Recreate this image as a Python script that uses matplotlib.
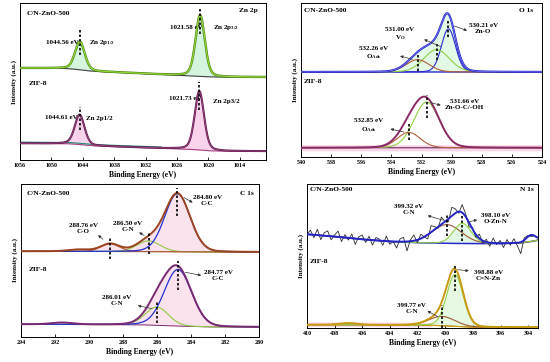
import numpy as np
import matplotlib
matplotlib.use("Agg")
import matplotlib.pyplot as plt

plt.rcParams['font.family'] = ['Liberation Serif', 'DejaVu Serif']
plt.rcParams['font.weight'] = 'bold'
plt.rcParams['mathtext.fontset'] = 'custom'
plt.rcParams['mathtext.rm'] = 'Liberation Serif:bold'
plt.rcParams['mathtext.it'] = 'Liberation Serif:bold'
plt.rcParams['mathtext.bf'] = 'Liberation Serif:bold'

# ---------------- data ----------------
# Zn 2p
zn_xlim = (1056, 1009)
zn_ticks = [1056, 1050, 1044, 1038, 1032, 1026, 1020, 1014]
zn_top_bg_x = [1056, 1048, 1046, 1043, 1041, 1036, 1030, 1025, 1023, 1020, 1018, 1009]
zn_top_bg_y = [0.586, 0.584, 0.580, 0.568, 0.563, 0.556, 0.546, 0.538, 0.535, 0.530, 0.528, 0.528]
zn_top_centers = [1044.56, 1021.58]
zn_top_heights = [0.180, 0.390]
zn_top_fwhm = [2.2, 2.1]
zn_bot_bg_x = [1056, 1047, 1045, 1042, 1036, 1030, 1026, 1023, 1020, 1017, 1009]
zn_bot_bg_y = [0.106, 0.104, 0.100, 0.090, 0.083, 0.076, 0.071, 0.067, 0.059, 0.056, 0.056]
zn_bot_centers = [1044.61, 1021.73]
zn_bot_heights = [0.190, 0.375]
zn_bot_fwhm = [2.2, 2.1]

# O 1s
o_xlim = (540, 524)
o_ticks = [540, 538, 536, 534, 532, 530, 528, 526, 524]
o_top_bg = 0.552
o_top_centers = [530.21, 531.00, 532.26]
o_top_heights = [0.280, 0.145, 0.080]
o_top_fwhm = [1.1, 2.0, 1.8]
o_bot_bg = 0.060
o_bot_centers = [531.66, 532.85]
o_bot_heights = [0.297, 0.100]
o_bot_fwhm = [2.0, 1.8]

# C 1s
c_xlim = (294, 280)
c_ticks = [294, 292, 290, 288, 286, 284, 282, 280]
c_top_bg_x = [294, 286, 284, 280]
c_top_bg_y = [0.560, 0.558, 0.556, 0.555]
c_top_centers = [284.80, 286.50, 288.76]
c_top_heights = [0.380, 0.070, 0.050]
c_top_fwhm = [1.76, 1.6, 1.3]
c_top_extra = [290.6, 0.012, 1.5]
c_bot_bg_x = [294, 287, 285, 283, 280]
c_bot_bg_y = [0.083, 0.080, 0.072, 0.066, 0.065]
c_bot_centers = [284.77, 286.01]
c_bot_heights = [0.370, 0.120]
c_bot_fwhm = [1.9, 1.6]
c_bot_extra = [291.6, 0.012, 1.5]

# N 1s
n_xlim = (410, 393.3)
n_ticks = [410, 408, 406, 404, 402, 400, 398, 396, 394]
n_top_bg_x = [410, 408, 406, 404, 402, 400, 398, 396, 394.6, 393.8, 393.3]
n_top_bg_y = [0.651, 0.635, 0.615, 0.600, 0.592, 0.588, 0.586, 0.586, 0.590, 0.600, 0.610]
n_top_centers = [399.90, 398.77]
n_top_heights = [0.130, 0.140]
n_top_fwhm = [2.5, 1.5]
n_top_extra = [393.8, 0.045, 0.8]
n_top_noise = [0.00, 0.03, -0.02, 0.04, -0.03, 0.02, 0.035, -0.025, 0.01, 0.04,
               -0.03, 0.02, -0.015, 0.03, -0.04, 0.015, 0.03, -0.02, 0.025, -0.035,
               0.02, 0.01, -0.03, 0.035, -0.02, 0.0, -0.045, 0.02, 0.03, -0.065,
               0.01, 0.04, -0.02, 0.03, 0.0, -0.03, 0.045, 0.02, -0.01, 0.05,
               0.0, -0.02, 0.06, 0.03, -0.01, 0.055, 0.02, -0.03, 0.01, -0.02,
               0.03, -0.015, 0.02, -0.025, 0.035, -0.01, 0.02, -0.03, 0.025, -0.015,
               0.03, -0.02, -0.08, 0.015, 0.01, -0.01, 0.0, 0.0]
n_bot_bg_x = [410, 404, 401, 399.5, 398, 396, 393.3]
n_bot_bg_y = [0.023, 0.021, 0.019, 0.012, 0.006, 0.005, 0.005]
n_bot_centers = [399.30, 400.22]
n_bot_heights = [0.360, 0.065]
n_bot_fwhm = [1.4, 2.2]
n_bot_extra = [407.0, 0.012, 1.5]


def pv(x, c, h, w, eta=0.1):
    d = (x - c) / w
    return h * ((1 - eta) * np.exp(-4 * np.log(2) * d ** 2) + eta / (1 + 4 * d ** 2))


W, H = 550, 362
fig = plt.figure(figsize=(5.5, 3.62), dpi=100)


def make_ax(l, r, t, b):
    return fig.add_axes([l / W, 1 - b / H, (r - l) / W, (b - t) / H])


FS_T = 4.3
FS_A = 5.0


def style(ax, xlim, ticks, ylabelpad=2):
    ax.set_xlim(*xlim)
    ax.set_ylim(0, 1)
    ax.set_xticks(ticks)
    ax.set_xticklabels([str(t) for t in ticks], fontsize=FS_T, fontweight='bold')
    ax.set_yticks([])
    ax.tick_params(axis='x', direction='in', length=2, width=0.6, pad=2)
    for s in ax.spines.values():
        s.set_linewidth(0.7)
    ax.set_xlabel('Binding Energy (eV)', fontsize=5.5, fontweight='bold', labelpad=2)
    ax.set_ylabel('Intensity (a.u.)', fontsize=5.0, fontweight='bold', labelpad=ylabelpad)


def vdash(ax, x, y0, y1):
    ax.plot([x, x], [y0, y1], color='black', lw=1.2, ls=(0, (1.5, 1.2)), zorder=6)


def ann(ax, text, tx, ty, ax0, ay0, ax1, ay1):
    ax.text(tx, ty, text, fontsize=FS_A, fontweight='bold', ha='center', va='center',
            linespacing=1.25, zorder=7)
    ax.annotate('', xy=(ax1, ay1), xytext=(ax0, ay0),
                arrowprops=dict(arrowstyle='-|>', lw=0.5, color='#333333',
                                mutation_scale=4), zorder=7)


# ---------------- Zn 2p ----------------
ax1 = make_ax(20, 266, 3, 160)
style(ax1, zn_xlim, zn_ticks)
x = np.linspace(1056, 1009, 1500)
bg = np.interp(x, zn_top_bg_x[::-1], zn_top_bg_y[::-1])
env = bg.copy()
for c, h, w in zip(zn_top_centers, zn_top_heights, zn_top_fwhm):
    comp = pv(x, c, h, w, 0.3)
    ax1.fill_between(x, bg, bg + comp, color='#d6f5df', lw=0, zorder=1)
    env += comp
ax1.plot(x, bg, color='#404040', lw=0.8, zorder=2)
ax1.plot(x, env, color='#4d7a12', lw=1.7, zorder=3)
ax1.plot(x, env, color='#8ed83a', lw=0.9, zorder=4)

bg = np.interp(x, zn_bot_bg_x[::-1], zn_bot_bg_y[::-1])
env = bg.copy()
for c, h, w in zip(zn_bot_centers, zn_bot_heights, zn_bot_fwhm):
    comp = pv(x, c, h, w, 0.3)
    ax1.fill_between(x, bg, bg + comp, color='#f9d3ec', lw=0, zorder=1)
    env += comp
ax1.plot(x, bg, color='#a8407f', lw=0.8, zorder=2)
m = x > 1029
ax1.plot(x[m], bg[m] + 0.008, color='#1f8a78', lw=0.8, zorder=2)
ax1.plot(x, env, color='#5a1f4e', lw=1.5, zorder=3)
ax1.plot(x, env, color='#a0407f', lw=0.6, zorder=4)

vdash(ax1, zn_top_centers[0], 0.67, 0.83)
vdash(ax1, zn_top_centers[1], 0.80, 0.96)
vdash(ax1, zn_bot_centers[0], 0.19, 0.34)
vdash(ax1, zn_bot_centers[1], 0.32, 0.50)
ax1.text(1048.0, 0.748, '1044.56 eV', fontsize=FS_A, ha='center', va='center')
ax1.text(1042.9, 0.748, 'Zn 2p$_{1/2}$', fontsize=FS_A, ha='left', va='center')
ax1.text(1024.3, 0.846, '1021.58 eV', fontsize=FS_A, ha='center', va='center')
ax1.text(1019.1, 0.846, 'Zn 2p$_{3/2}$', fontsize=FS_A, ha='left', va='center')
ax1.text(1048.2, 0.268, '1044.61 eV', fontsize=FS_A, ha='center', va='center')
ax1.text(1043.3, 0.262, 'Zn 2p1/2', fontsize=FS_A, ha='left', va='center')
ax1.text(1024.5, 0.389, '1021.73 eV', fontsize=FS_A, ha='center', va='center')
ax1.text(1019.1, 0.374, 'Zn 2p3/2', fontsize=FS_A, ha='left', va='center')
ax1.text(0.027, 0.93, 'C/N-ZnO-500', transform=ax1.transAxes, fontsize=5.3, va='center')
ax1.text(0.965, 0.955, 'Zn 2p', transform=ax1.transAxes, fontsize=5.3, va='center', ha='right')
ax1.text(0.034, 0.486, 'ZIF-8', transform=ax1.transAxes, fontsize=5.3, va='center')

# ---------------- O 1s ----------------
ax2 = make_ax(301, 542, 3, 157)
style(ax2, o_xlim, o_ticks)
x = np.linspace(540, 524, 1200)
bg = np.full_like(x, o_top_bg)
comp_cols = ['#2a2ad0', '#8fd143', '#b0603c']
env = bg.copy()
comps = []
for c, h, w in zip(o_top_centers, o_top_heights, o_top_fwhm):
    comp = pv(x, c, h, w)
    comps.append(comp)
    env += comp
ax2.fill_between(x, bg, env, color='#e4f8e6', lw=0, zorder=1)
for comp, col in zip(comps, comp_cols):
    ax2.plot(x, bg + comp, color=col, lw=0.8, zorder=3)
ax2.plot(x, bg, color='#2a2ad0', lw=1.0, zorder=2)
ax2.plot(x, env, color='#2424c8', lw=1.5, zorder=4)
ax2.plot(x, env, color='#9090ff', lw=0.4, zorder=4)

bg = np.full_like(x, o_bot_bg)
ax2.fill_between(x, bg - 0.02, bg + 0.02, color='#fbd5ea', lw=0, zorder=1)
env = bg.copy()
comps = []
for c, h, w in zip(o_bot_centers, o_bot_heights, o_bot_fwhm):
    comp = pv(x, c, h, w)
    comps.append(comp)
    env += comp
for comp, col in zip(comps, ['#8fd143', '#b0603c']):
    ax2.plot(x, bg + comp, color=col, lw=0.8, zorder=3)
ax2.plot(x, bg, color='#6a2a5a', lw=0.8, zorder=2)
ax2.plot(x, env, color='#8a2a66', lw=1.4, zorder=4)

vdash(ax2, o_top_centers[0], 0.78, 0.88)
vdash(ax2, o_top_centers[1], 0.63, 0.74)
vdash(ax2, o_top_centers[2], 0.56, 0.67)
vdash(ax2, o_bot_centers[0], 0.25, 0.40)
vdash(ax2, o_bot_centers[1], 0.108, 0.216)
ann(ax2, '530.21 eV\nZn-O', 527.9, 0.835, 530.0, 0.857, 528.8, 0.815)
ann(ax2, '531.00 eV\nV$_{O}$', 533.43, 0.797, 530.55, 0.71, 532.0, 0.77)
ann(ax2, '532.26 eV\nO$_{Ads}$', 535.15, 0.672, 532.43, 0.63, 533.6, 0.66)
ann(ax2, '531.66 eV\nZn-O-C/-OH', 529.15, 0.343, 531.59, 0.359, 530.55, 0.331)
ann(ax2, '532.85 eV\nO$_{Ads}$', 535.53, 0.20, 532.98, 0.158, 534.24, 0.186)
ax2.text(0.012, 0.952, 'C/N-ZnO-500', transform=ax2.transAxes, fontsize=5.3, va='center')
ax2.text(0.965, 0.95, 'O 1s', transform=ax2.transAxes, fontsize=5.3, va='center', ha='right')
ax2.text(0.012, 0.49, 'ZIF-8', transform=ax2.transAxes, fontsize=5.3, va='center')

# ---------------- C 1s ----------------
ax3 = make_ax(21, 259, 184, 337)
style(ax3, c_xlim, c_ticks)
x = np.linspace(294, 280, 1200)
bg = np.interp(x, c_top_bg_x[::-1], c_top_bg_y[::-1])
comps = [pv(x, c, h, w) for c, h, w in zip(c_top_centers, c_top_heights, c_top_fwhm)]
env = bg + sum(comps) + pv(x, *c_top_extra)
ax3.fill_between(x, bg, env, color='#fbe3ee', lw=0, zorder=1)
ax3.plot(x, bg + comps[1], color='#8fcc45', lw=0.8, zorder=3)
ax3.plot(x, bg + comps[2], color='#b0603c', lw=0.8, zorder=3)
ax3.plot(x, bg + comps[0], color='#2030d0', lw=0.9, zorder=3)
ax3.plot(x, bg, color='#a05030', lw=0.7, zorder=2)
ax3.plot(x, env, color='#9c4420', lw=1.4, zorder=4)

bg = np.interp(x, c_bot_bg_x[::-1], c_bot_bg_y[::-1])
comps = [pv(x, c, h, w) for c, h, w in zip(c_bot_centers, c_bot_heights, c_bot_fwhm)]
env = bg + sum(comps) + pv(x, *c_bot_extra)
ax3.fill_between(x, bg, env, color='#fbe3ee', lw=0, zorder=1)
ax3.plot(x, bg + comps[1], color='#8fcc45', lw=0.8, zorder=3)
ax3.plot(x, bg + comps[0], color='#2030d0', lw=0.9, zorder=3)
ax3.plot(x, bg, color='#7a2a70', lw=0.7, zorder=2)
ax3.plot(x, env, color='#7a2a70', lw=1.4, zorder=4)

vdash(ax3, c_top_centers[0], 0.79, 0.975)
vdash(ax3, c_top_centers[1], 0.54, 0.68)
vdash(ax3, c_top_centers[2], 0.507, 0.648)
vdash(ax3, c_bot_centers[0], 0.31, 0.50)
vdash(ax3, c_bot_centers[1], 0.093, 0.235)
ann(ax3, '284.80 eV\nC-C', 283.04, 0.892, 284.55, 0.92, 283.76, 0.87)
ann(ax3, '286.50 eV\nC-N', 287.72, 0.72, 286.61, 0.654, 287.19, 0.693)
ann(ax3, '288.76 eV\nC-O', 290.33, 0.709, 289.06, 0.627, 289.59, 0.678)
ann(ax3, '284.77 eV\nC-C', 282.39, 0.402, 284.49, 0.427, 283.24, 0.399)
ann(ax3, '286.01 eV\nC-N', 288.37, 0.238, 286.12, 0.181, 287.29, 0.209)
ax3.text(0.025, 0.935, 'C/N-ZnO-500', transform=ax3.transAxes, fontsize=5.3, va='center')
ax3.text(0.978, 0.94, 'C 1s', transform=ax3.transAxes, fontsize=5.3, va='center', ha='right')
ax3.text(0.03, 0.44, 'ZIF-8', transform=ax3.transAxes, fontsize=5.3, va='center')

# ---------------- N 1s ----------------
ax4 = make_ax(307, 538, 184, 328)
style(ax4, n_xlim, n_ticks)
x = np.linspace(410, 393.3, 1200)
bg = np.interp(x, n_top_bg_x[::-1], n_top_bg_y[::-1])
comps = [pv(x, c, h, w) for c, h, w in zip(n_top_centers, n_top_heights, n_top_fwhm)]
env = bg + sum(comps) + pv(x, *n_top_extra)
ax4.fill_between(x, bg, bg + comps[1], color='#e2f7e4', lw=0, zorder=1)
ax4.plot(x, bg + comps[0], color='#9c5a36', lw=0.8, zorder=3)
ax4.plot(x, bg + comps[1], color='#8fd143', lw=0.8, zorder=3)
ax4.plot(x, bg, color='#2a2ad0', lw=1.1, zorder=2)
xr = np.linspace(410, 393.3, len(n_top_noise))
bgr = np.interp(xr, n_top_bg_x[::-1], n_top_bg_y[::-1])
envr = bgr + sum(pv(xr, c, h, w) for c, h, w in zip(n_top_centers, n_top_heights, n_top_fwhm)) \
    + pv(xr, *n_top_extra)
ax4.plot(xr, envr + np.array(n_top_noise), color='#2a2a2a', lw=0.6, zorder=4)
ax4.plot(x, env, color='#2424c8', lw=1.4, zorder=5)

bg = np.interp(x, n_bot_bg_x[::-1], n_bot_bg_y[::-1])
comps = [pv(x, c, h, w) for c, h, w in zip(n_bot_centers, n_bot_heights, n_bot_fwhm)]
extra = pv(x, *n_bot_extra)
env = bg + sum(comps) + extra
mp = x > 401
ax4.fill_between(x[mp], bg[mp] - 0.012, bg[mp] + 0.02, color='#fbd8ea', lw=0, zorder=1)
ax4.fill_between(x, bg, bg + comps[0], color='#e6f8e2', lw=0, zorder=1)
ax4.plot(x, bg + extra, color='#9c5a36', lw=0.7, zorder=2)
ax4.plot(x, bg + comps[1], color='#9c5a36', lw=0.8, zorder=3)
ax4.plot(x, bg + comps[0], color='#8fd143', lw=0.8, zorder=3)
ax4.plot(x, bg, color='#c8a010', lw=0.9, zorder=2)
ax4.plot(x, env, color='#c89a10', lw=1.4, zorder=4)

vdash(ax4, n_top_centers[0], 0.64, 0.79)
vdash(ax4, n_top_centers[1], 0.605, 0.79)
vdash(ax4, n_bot_centers[0], 0.256, 0.43)
vdash(ax4, n_bot_centers[1], 0.0, 0.163)
ann(ax4, '399.32 eV\nC-N', 402.67, 0.82, 400.02, 0.744, 401.47, 0.786)
ann(ax4, '398.10 eV\nO-Zn-N', 396.37, 0.758, 398.46, 0.733, 397.5, 0.756)
ann(ax4, '398.88 eV\nC=N-Zn', 396.9, 0.368, 399.3, 0.407, 398.1, 0.395)
ann(ax4, '399.77 eV\nC-N', 402.43, 0.134, 400.38, 0.07, 401.47, 0.128)
ax4.text(0.01, 0.965, 'C/N-ZnO-500', transform=ax4.transAxes, fontsize=5.3, va='center')
ax4.text(0.983, 0.96, 'N 1s', transform=ax4.transAxes, fontsize=5.3, va='center', ha='right')
ax4.text(0.012, 0.465, 'ZIF-8', transform=ax4.transAxes, fontsize=5.3, va='center')

fig.savefig('out.png', dpi=100)
